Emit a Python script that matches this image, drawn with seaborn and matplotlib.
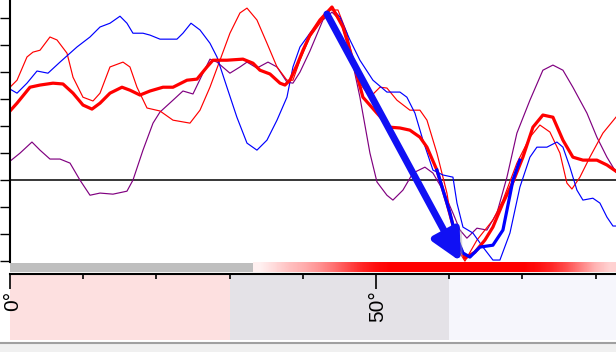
import numpy as np
import matplotlib
matplotlib.use("Agg")
import matplotlib.pyplot as plt
import matplotlib.patheffects as pe
from matplotlib.colors import LinearSegmentedColormap
from matplotlib.patches import Rectangle
from matplotlib.lines import Line2D
import seaborn as sns

# === datos (angulo en grados, valor) ===
azul_x = [0, 0.96, 2.32, 3.69, 5.19, 6.83, 9.15, 10.93, 12.3, 13.66, 15.03, 15.98, 16.8, 18.17,
          19.13, 20.49, 22.81, 23.63, 24.73, 25.96, 27.32, 28.28, 29.64, 31.0, 32.38, 33.74, 35.11,
          36.48, 37.84, 38.66, 39.62, 40.98, 42.76, 43.99, 45.08, 46.45, 47.81, 49.59, 51.5, 53.28,
          54.23, 55.33, 56.42, 57.79, 59.15, 60.52, 61.07, 61.89, 63.25, 64.62, 65.98, 66.94, 68.31,
          69.67, 71.04, 71.99, 73.36, 74.73, 75.55, 76.5, 77.46, 78.28, 79.64, 80.6, 81.56, 82.38, 82.79]
azul_y = [33.7, 32.2, 35.9, 40.4, 39.6, 43.7, 49.3, 53.0, 56.7, 58.1, 60.7, 58.1, 54.4, 54.4,
          53.7, 52.2, 52.2, 54.4, 58.1, 55.6, 50.7, 45.6, 34.4, 23.3, 13.7, 11.1, 14.8,
          22.2, 30.7, 41.9, 49.3, 54.4, 60.4, 63.7, 60.4, 51.9, 44.4, 37.0, 32.6, 32.6,
          30.7, 24.8, 14.8, 3.7, 1.9, 1.1, -8.5, -17.4, -19.6, -24.8, -29.6, -29.6, -19.6,
          -2.6, 8.5, 12.2, 12.2, 14.1, 12.2, 4.8, -3.7, -7.4, -6.7, -8.5, -13.7, -17.0, -17.0]

rojo_x = [0, 0.96, 2.32, 3.14, 4.1, 5.46, 6.42, 7.79, 8.61, 9.97, 11.34, 12.3, 13.66, 15.44,
          16.39, 17.35, 18.72, 20.49, 22.27, 24.59, 25.96, 27.32, 28.69, 30.05, 31.42, 32.38, 33.74,
          35.11, 36.48, 37.84, 38.66, 39.62, 40.98, 42.35, 43.72, 44.81, 46.04, 46.86, 47.81, 49.18,
          50.55, 51.5, 52.87, 54.64, 56.01, 56.97, 58.33, 59.7, 60.52, 61.48, 62.16, 63.8, 65.98,
          67.35, 69.26, 71.04, 72.4, 73.77, 75.14, 76.09, 76.78, 77.87, 79.23, 81.01, 82.79]
rojo_y = [34.4, 37.0, 45.6, 47.4, 48.1, 53.0, 51.9, 47.0, 38.1, 30.7, 29.3, 32.2, 41.9, 43.7,
          41.9, 34.4, 26.7, 25.6, 22.2, 21.1, 25.9, 34.4, 44.4, 54.4, 61.9, 63.7, 59.3,
          50.7, 41.9, 37.0, 37.0, 44.4, 53.0, 58.1, 63.0, 63.0, 54.4, 44.4, 35.9, 30.7,
          34.4, 34.1, 29.6, 25.9, 25.9, 22.2, 10.0, -4.8, -18.5, -27.0, -30.0, -22.2, -14.8,
          -7.4, 6.3, 15.9, 20.4, 17.8, 10.0, -1.1, -3.3, 1.1, 8.5, 17.4, 23.3]

media_roja_x = [0, 0.96, 2.73, 4.1, 5.87, 7.24, 8.61, 9.97, 11.2, 12.3, 13.66, 15.3, 16.39, 17.76,
                19.13, 20.9, 22.27, 24.18, 25.55, 26.91, 27.73, 29.64, 31.83, 33.2, 34.15, 35.52,
                36.89, 37.57, 38.25, 39.21, 40.03, 40.98, 42.35, 43.99, 45.49, 46.86, 48.22, 50.14,
                51.91, 53.28, 54.64, 56.01, 56.97, 58.33, 59.7, 61.07, 62.16, 63.52, 64.89, 65.98,
                67.35, 68.72, 70.08, 71.45, 72.81, 74.18, 75.55, 76.91, 78.28, 80.19, 81.56, 82.79]
media_roja_y = [25.6, 28.5, 34.4, 35.2, 35.9, 35.6, 32.2, 27.8, 26.3, 28.5, 32.2, 34.4, 33.3, 31.5,
                33.0, 34.4, 34.4, 37.0, 37.4, 41.9, 44.4, 44.4, 44.8, 43.3, 40.7, 39.3,
                35.9, 35.2, 37.0, 42.6, 48.1, 53.7, 59.3, 64.1, 56.7, 44.4, 30.7, 24.8,
                19.6, 19.3, 18.5, 15.9, 12.2, 3.7, -8.5, -22.2, -28.9, -26.7, -22.2, -17.4,
                -8.5, -0.7, 8.5, 19.6, 24.1, 23.3, 14.8, 8.5, 7.4, 7.4, 5.6, 3.3]

media_azul_x = [58.33, 59.7, 60.11, 60.79, 61.89, 62.84, 64.21, 65.98, 67.35, 68.31, 68.72, 69.67]
media_azul_y = [3.7, -8.5, -12.2, -19.6, -27.0, -28.5, -24.8, -24.1, -18.5, -5.6, 0.0, 7.4]

morado_x = [0, 1.37, 3.0, 4.1, 5.46, 6.83, 8.2, 9.56, 10.93, 12.3, 14.07, 15.98, 16.8, 18.17,
            19.54, 20.49, 22.27, 23.63, 25.0, 26.37, 27.32, 28.28, 30.05, 31.42, 32.38, 33.74,
            35.25, 36.48, 37.84, 38.66, 39.62, 40.98, 42.76, 43.99, 45.08, 46.45, 47.81, 49.18,
            50.14, 51.5, 52.32, 53.69, 55.05, 56.69, 57.79, 59.15, 60.52, 61.48, 62.43, 63.8,
            65.16, 66.53, 67.9, 69.26, 71.04, 72.81, 74.18, 75.55, 76.91, 78.83, 80.19, 81.56, 82.79]
morado_y = [7.0, 10.0, 14.1, 11.1, 7.8, 7.8, 6.3, 0.0, -5.6, -4.8, -5.2, -4.1, 0.0, 11.1,
            21.1, 25.2, 29.6, 33.0, 31.9, 39.6, 44.8, 43.7, 39.6, 41.9, 43.7, 41.5,
            43.7, 41.9, 36.3, 35.9, 40.0, 47.8, 59.3, 62.2, 59.3, 48.1, 30.7, 10.0,
            -0.7, -5.6, -7.4, -3.7, 2.6, 4.8, 2.6, -3.7, -12.2, -18.5, -21.5, -17.8,
            -18.5, -12.2, 1.1, 17.4, 29.6, 40.7, 42.6, 40.7, 34.4, 24.8, 15.9, 8.5, 3.0]

# intensidad de la barra roja (desde 33.2 grados hasta el final)
intensidad = [0.06, 0.15, 0.25, 0.32, 0.42, 0.55, 0.7, 0.85, 0.95, 1, 1, 1, 1, 1, 1, 1, 1,
              1, 1, 0.95, 0.85, 0.7, 0.5, 0.3, 0.18]

ticks_y = [-30, -20, -10, 0, 10, 20, 30, 40, 50, 60]
ticks_grados = [0, 50]
etiquetas_grados = ["0°", "50°"]
ticks_menores = [10, 20, 30, 40, 60, 70, 80]
zonas = [(0, 30, "#fde0e0"), (30, 60, "#e4e2e7"), (60, 82.8, "#f6f6fc")]

W, H = 616, 352
fig = plt.figure(figsize=(W / 100, H / 100), dpi=100)

# === grafica principal ===
ax = fig.add_axes([10 / W, 1 - 273 / H, 606 / W, 273 / H])
ax.axhline(0, color="black", lw=1.1, zorder=1)

sns.lineplot(x=morado_x, y=morado_y, color="#800080", linewidth=0.85, ax=ax, estimator=None, sort=False)
sns.lineplot(x=rojo_x, y=rojo_y, color="#ff0000", linewidth=0.85, ax=ax, estimator=None, sort=False)
sns.lineplot(x=azul_x, y=azul_y, color="#0000ff", linewidth=0.85, ax=ax, estimator=None, sort=False)
sns.lineplot(x=media_roja_x, y=media_roja_y, color="#ff0000", linewidth=2.3, ax=ax, estimator=None, sort=False)
sns.lineplot(x=media_azul_x, y=media_azul_y, color="#0000ff", linewidth=2.3, ax=ax, estimator=None, sort=False)

# barra gris + barra de intensidad
ax.fill_between([0, 33.2], -34.1, -30.7, color="#bfbfbf", lw=0)
cmap = LinearSegmentedColormap.from_list("rojos", ["#ffffff", "#ff0000"])
ax.imshow(np.array([intensidad]), cmap=cmap, vmin=0, vmax=1, aspect="auto",
          extent=(33.2, 82.8, -34.1, -30.7), interpolation="bilinear", zorder=2)

# flecha
ax.annotate("", xy=(61.6, -30.2), xytext=(43.3, 61.5), annotation_clip=False,
            arrowprops=dict(arrowstyle="-|>,head_length=0.9,head_width=0.45", lw=5,
                            color="#1010f4", mutation_scale=20, shrinkA=0, shrinkB=0,
                            path_effects=[pe.withSimplePatchShadow(offset=(4, -2), shadow_rgbFace="#aaaaaa", alpha=0.45)]))

ax.set_xlim(0, 82.8)
ax.set_ylim(-34.4, 66.7)
for s in ["top", "right", "bottom"]:
    ax.spines[s].set_visible(False)
ax.spines["left"].set_linewidth(1.5)
ax.spines["left"].set_bounds(-30.4, 66.7)
ax.set_yticks(ticks_y)
ax.set_yticklabels([])
ax.set_xticks([])
ax.tick_params(axis="y", length=7.2, width=1.0, direction="out")
ax.set_xlabel("")
ax.set_ylabel("")

# === eje de angulos con zonas ===
ax2 = fig.add_axes([10 / W, 1 - 340 / H, 606 / W, 66 / H])
for a, b, c in zonas:
    ax2.axvspan(a, b, color=c, lw=0)
ax2.set_xlim(0, 82.8)
ax2.set_ylim(0, 1)
for s in ["left", "right", "bottom"]:
    ax2.spines[s].set_visible(False)
ax2.spines["top"].set_linewidth(1.5)
ax2.set_yticks([])
ax2.set_xticks(ticks_grados)
ax2.set_xticks(ticks_menores, minor=True)
ax2.tick_params(axis="x", which="major", direction="in", length=11, width=1.2,
                top=True, bottom=False, labeltop=False, labelbottom=False)
ax2.tick_params(axis="x", which="minor", direction="in", length=3.6, width=1.2,
                top=True, bottom=False)
for t, lab in zip(ticks_grados, etiquetas_grados):
    ax2.text(t + 0.3, 0.75, lab, rotation=90, ha="center", va="top", fontsize=15,
             family=["Liberation Sans", "DejaVu Sans"])

# franja inferior
fig.patches.append(Rectangle((0, 0), 1, 8 / H, transform=fig.transFigure,
                             facecolor="#f0f0f0", edgecolor="none"))
fig.add_artist(Line2D([0, 1], [1 - 343 / H] * 2, color="#a0a0a0", lw=1.5))

fig.savefig("out.png", dpi=100)
